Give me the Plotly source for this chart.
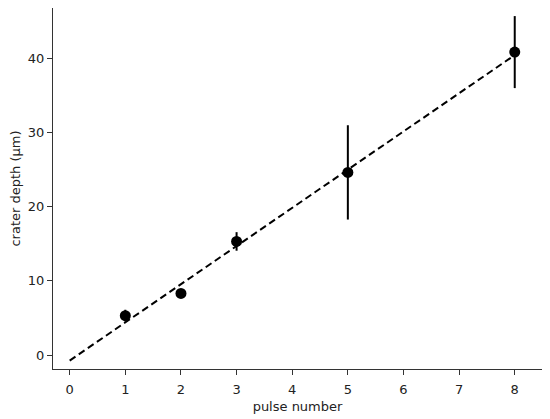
import plotly.graph_objects as go

# measured crater depths per pulse count
pulses = [1, 2, 3, 5, 8]
depth = [5.3, 8.3, 15.3, 24.6, 40.8]
depth_err = [0.8, 0.3, 1.25, 6.35, 4.85]

# linear fit line (dashed)
fit_x = [0, 8]
fit_y = [-0.75, 40.4]

x_ticks = [0, 1, 2, 3, 4, 5, 6, 7, 8]
y_ticks = [0, 10, 20, 30, 40]

font = dict(family="DejaVu Sans", size=13, color="#222222")

fig = go.Figure()
fig.add_trace(go.Scatter(
    x=fit_x, y=fit_y, mode="lines",
    line=dict(color="black", width=2, dash="7px,4px"),
    showlegend=False, hoverinfo="skip",
))
fig.add_trace(go.Scatter(
    x=pulses, y=depth, mode="markers",
    marker=dict(color="black", size=11),
    error_y=dict(type="data", array=depth_err, color="black", thickness=2, width=0),
    showlegend=False,
))

axis_common = dict(
    showline=True, linecolor="#333333", linewidth=1, mirror=True,
    ticks="outside", ticklen=5, tickwidth=1, tickcolor="#333333",
    showgrid=False, zeroline=False, tickfont=font,
)
fig.update_xaxes(range=[-0.3, 8.49], tickvals=x_ticks, ticklabelstandoff=3,
                 title=dict(text="pulse number", font=font, standoff=6), **axis_common)
fig.update_yaxes(range=[-1.88, 46.74], tickvals=y_ticks,
                 title=dict(text="crater depth (μm)", font=font, standoff=6), **axis_common)

# page body adds an 8px offset, so the figure is sized to fit inside it
fig.update_layout(
    width=542, height=411,
    margin=dict(l=45, r=8, t=0, b=50),
    plot_bgcolor="white", paper_bgcolor="white",
    font=font,
)

fig.write_html("out.html")
